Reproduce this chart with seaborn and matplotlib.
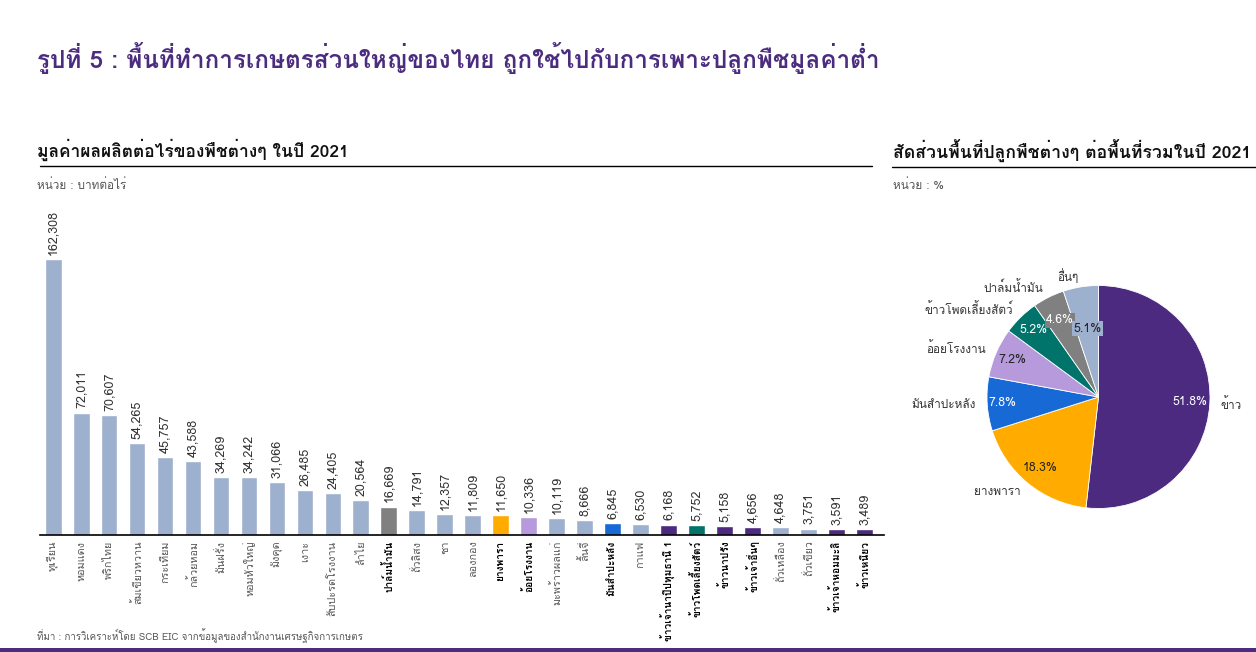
import matplotlib
matplotlib.use("Agg")
import matplotlib.pyplot as plt
from matplotlib import font_manager
from matplotlib.ft2font import FT2Font
from matplotlib.lines import Line2D
from matplotlib.patches import Rectangle
import seaborn as sns

# --- data -------------------------------------------------------------
crops = [
    "ทุเรียน", "หอมแดง", "พริกไทย", "ส้มเขียวหวาน", "กระเทียม", "กล้วยหอม",
    "มันฝรั่ง", "หอมหัวใหญ่", "มังคุด", "เงาะ", "สับปะรดโรงงาน", "ลำไย",
    "ปาล์มน้ำมัน", "ถั่วลิสง", "ชา", "ลองกอง", "ยางพารา", "อ้อยโรงงาน",
    "มะพร้าวผลแก่", "ลิ้นจี่", "มันสำปะหลัง", "กาแฟ", "ข้าวเจ้านาปีปทุมธานี 1",
    "ข้าวโพดเลี้ยงสัตว์", "ข้าวนาปรัง", "ข้าวเจ้าอื่นๆ", "ถั่วเหลือง", "ถั่วเขียว",
    "ข้าวเจ้าหอมมะลิ", "ข้าวเหนียว",
]
value_per_rai = [
    162308, 72011, 70607, 54265, 45757, 43588, 34269, 34242, 31066, 26485,
    24405, 20564, 16669, 14791, 12357, 11809, 11650, 10336, 10119, 8666,
    6845, 6530, 6168, 5752, 5158, 4656, 4648, 3751, 3591, 3489,
]
# crop group -> colour key (matches the pie slices)
crop_group = [
    "other", "other", "other", "other", "other", "other", "other", "other",
    "other", "other", "other", "other", "palm", "other", "other", "other",
    "rubber", "sugar", "other", "other", "cassava", "other", "rice", "maize",
    "rice", "rice", "other", "other", "rice", "rice",
]

pie_labels = ["ข้าว", "ยางพารา", "มันสำปะหลัง", "อ้อยโรงงาน",
              "ข้าวโพดเลี้ยงสัตว์", "ปาล์มน้ำมัน", "อื่นๆ"]
pie_share = [51.8, 18.3, 7.8, 7.2, 5.2, 4.6, 5.1]
pie_group = ["rice", "rubber", "cassava", "sugar", "maize", "palm", "other"]

# --- style ------------------------------------------------------------
COLORS = {
    "rice": "#4B2A80",
    "rubber": "#FFAB00",
    "cassava": "#1769D6",
    "sugar": "#B69ADB",
    "maize": "#00746B",
    "palm": "#808080",
    "other": "#9DB0CE",
}
PURPLE = "#4B2C7F"
W, H = 1256, 652


def _thai_family():
    """Hunt for an installed family that actually has Thai glyphs."""
    for f in font_manager.fontManager.ttflist:
        try:
            if 0x0E01 in FT2Font(f.fname).get_charmap():
                return f.name
        except Exception:
            continue
    return None


sns.set_theme(style="white")
thai = _thai_family()
fams = ([thai] if thai else []) + ["DejaVu Sans"]
plt.rcParams["font.family"] = fams


def fx(px):
    return px / W


def fy(py):
    return 1 - py / H


fig = plt.figure(figsize=(W / 100, H / 100), dpi=100)
fig.patch.set_facecolor("white")

# --- header texts -----------------------------------------------------
fig.text(fx(37), fy(58), "รูปที่ 5 : พื้นที่ทำการเกษตรส่วนใหญ่ของไทย ถูกใช้ไปกับการเพาะปลูกพืชมูลค่าต่ำ",
         fontsize=17.5, fontweight="bold", color=PURPLE, va="center", ha="left")
fig.text(fx(37), fy(150), "มูลค่าผลผลิตต่อไร่ของพืชต่างๆ ในปี 2021",
         fontsize=12.5, fontweight="bold", color="#111111", va="center")
fig.text(fx(37), fy(185), "หน่วย : บาทต่อไร่", fontsize=8.5, color="#555555", va="center")
fig.text(fx(893), fy(150), "สัดส่วนพื้นที่ปลูกพืชต่างๆ ต่อพื้นที่รวมในปี 2021",
         fontsize=12.7, fontweight="bold", color="#111111", va="center")
fig.text(fx(893), fy(185), "หน่วย : %", fontsize=8.5, color="#555555", va="center")
fig.text(fx(37), fy(636), "ที่มา : การวิเคราะห์โดย SCB EIC จากข้อมูลของสำนักงานเศรษฐกิจการเกษตร",
         fontsize=7, color="#555555", va="center")

fig.add_artist(Line2D([fx(40), fx(872)], [fy(166), fy(166)], color="black", lw=1))
fig.add_artist(Line2D([fx(892), fx(1256)], [fy(167), fy(167)], color="black", lw=1))
fig.add_artist(Rectangle((0, 0), 1, fy(648), color=PURPLE, lw=0))

# --- bar chart --------------------------------------------------------
ax = fig.add_axes([fx(40), fy(535), fx(884) - fx(40), fy(200) - fy(535)])
bar_colors = [COLORS[g] for g in crop_group]
sns.barplot(x=crops, y=value_per_rai, hue=crops, palette=bar_colors,
            legend=False, width=0.6, saturation=1, ax=ax)
for cont in ax.containers:
    ax.bar_label(cont, labels=[f"{v:,.0f}" for v in cont.datavalues],
                 rotation=90, padding=3, fontsize=9, color="#333333")

ax.set_xlim(-0.47, 29.7)
ax.set_ylim(0, 197000)
ax.set_yticks([])
ax.set_ylabel("")
for side in ["top", "right", "left"]:
    ax.spines[side].set_visible(False)
ax.spines["bottom"].set_color("black")
ax.spines["bottom"].set_linewidth(1.2)
ax.tick_params(axis="x", length=0, pad=4)
ax.set_xticks(range(len(crops)))
ax.set_xticklabels(crops, rotation=90, fontsize=7.8)
for lbl, g in zip(ax.get_xticklabels(), crop_group):
    if g == "other":
        lbl.set_color("#555555")
    else:
        lbl.set_color("#000000")
        lbl.set_fontweight("bold")
        lbl.set_fontsize(7.3)

# --- pie chart --------------------------------------------------------
r_px = 111.5
cx, cy = 1098.5, 397
side = 2.5 * r_px
pax = fig.add_axes([fx(cx - side / 2), fy(cy + side / 2), side / W, side / H])
slice_colors = [COLORS[g] for g in pie_group]
wedges, texts, autotexts = pax.pie(
    pie_share, labels=pie_labels, colors=slice_colors, startangle=90,
    counterclock=False, autopct="%.1f%%", pctdistance=0.84,
    labeldistance=1.1, wedgeprops=dict(linewidth=0.6, edgecolor="white"),
    textprops=dict(fontsize=8.5, color="#333333"),
)
pct_r = [0.82, 0.82, 0.86, 0.84, 0.84, 0.77, 0.62]
pct_dark = [False, True, False, True, False, False, True]
for t, r, dark, col in zip(autotexts, pct_r, pct_dark, slice_colors):
    x, y = t.get_position()
    s = r / 0.84
    t.set_position((x * s, y * s))
    t.set_color("#222222" if dark else "white")
    t.set_fontsize(8.8)
    t.set_bbox(dict(facecolor=col, edgecolor="none", pad=1.0))
pax.set_xlim(-1.25, 1.25)
pax.set_ylim(-1.25, 1.25)
pax.set_aspect("equal")

fig.savefig("out.png", dpi=100, facecolor="white")
